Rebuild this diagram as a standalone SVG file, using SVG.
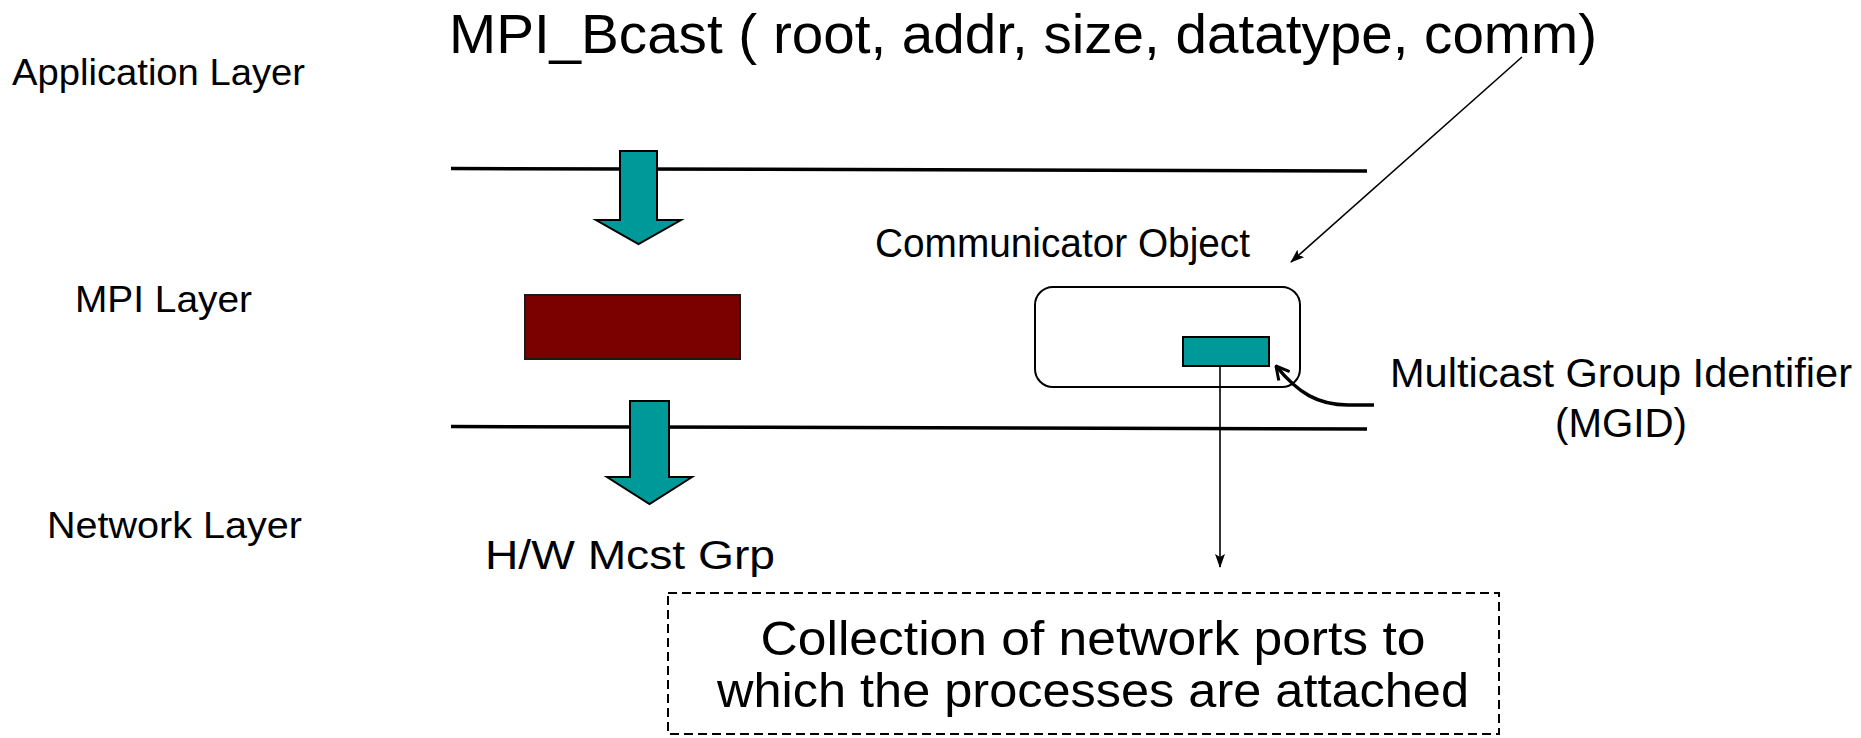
<svg xmlns="http://www.w3.org/2000/svg" width="1861" height="738" viewBox="0 0 1861 738">
  <defs>
    <style>
      .txt { font-family: "Liberation Sans", "DejaVu Sans", sans-serif; fill: #000; }
      .layer { stroke: #000; stroke-width: 3.5; fill: none; }
      .flow { fill: #009999; stroke: #000; stroke-width: 2; stroke-linejoin: miter; }
      .thin { stroke: #000; stroke-width: 1.6; fill: none; }
    </style>
    <marker id="tip" viewBox="0 0 14 10" refX="13" refY="5" markerWidth="14" markerHeight="10" markerUnits="userSpaceOnUse" orient="auto">
      <path d="M0,0 L14,5 L0,10 L3,5 z" fill="#000"/>
    </marker>
    <marker id="openTip" viewBox="0 0 16 16" refX="15" refY="8" markerWidth="16" markerHeight="16" markerUnits="userSpaceOnUse" orient="auto">
      <path d="M2,1 L15,8 L2,15" fill="none" stroke="#000" stroke-width="3"/>
    </marker>
  </defs>

  <rect width="1861" height="738" fill="#fff"/>

  <!-- layer labels -->
  <g id="label-application">
    <text class="txt" x="12" y="85" font-size="37" textLength="293" lengthAdjust="spacingAndGlyphs">Application Layer</text>
  </g>
  <g id="label-mpi">
    <text class="txt" x="75" y="312" font-size="37" textLength="177" lengthAdjust="spacingAndGlyphs">MPI Layer</text>
  </g>
  <g id="label-network">
    <text class="txt" x="47" y="538" font-size="37" textLength="255" lengthAdjust="spacingAndGlyphs">Network Layer</text>
  </g>

  <!-- call signature -->
  <g id="call">
    <text class="txt" x="449" y="53" font-size="56" textLength="1148" lengthAdjust="spacingAndGlyphs">MPI_Bcast ( root, addr, size, datatype, comm)</text>
  </g>

  <!-- layer boundaries -->
  <g id="boundaries">
    <line class="layer" x1="451" y1="168.5" x2="1367" y2="171"/>
    <line class="layer" x1="451" y1="426.5" x2="1367" y2="429"/>
  </g>

  <!-- downward flow arrows -->
  <g id="flow-app-to-mpi">
    <path class="flow" d="M620,151 H657 V220 H681 L638.5,244 L596,220 H620 Z"/>
  </g>
  <g id="flow-mpi-to-net">
    <path class="flow" d="M630,401 H669 V477 H692 L649.5,504 L607,477 H630 Z"/>
  </g>

  <!-- MPI layer block -->
  <g id="mpi-block">
    <rect x="525" y="295" width="215" height="64" fill="#7B0000" stroke="#1a1a1a" stroke-width="2"/>
  </g>

  <g id="hw-group">
    <text class="txt" x="485" y="569" font-size="40" textLength="290" lengthAdjust="spacingAndGlyphs">H/W Mcst Grp</text>
  </g>

  <!-- communicator object -->
  <g id="communicator">
    <text class="txt" x="875" y="257" font-size="40" textLength="375" lengthAdjust="spacingAndGlyphs">Communicator Object</text>
    <rect x="1035" y="287" width="265" height="100" rx="18" ry="18" fill="#fff" stroke="#000" stroke-width="2"/>
  </g>
  <g id="mgid">
    <rect x="1183" y="337" width="86" height="29" fill="#009999" stroke="#000" stroke-width="2"/>
  </g>
  <g id="mgid-label">
    <text class="txt" x="1621" y="387" font-size="40" text-anchor="middle" textLength="462" lengthAdjust="spacingAndGlyphs">Multicast Group Identifier</text>
    <text class="txt" x="1621" y="437" font-size="40" text-anchor="middle" textLength="132" lengthAdjust="spacingAndGlyphs">(MGID)</text>
  </g>

  <!-- port collection -->
  <g id="port-collection">
    <rect x="668" y="593" width="831" height="141" fill="none" stroke="#000" stroke-width="2" stroke-dasharray="9 5"/>
    <text class="txt" x="1093" y="655" font-size="48" text-anchor="middle" textLength="665" lengthAdjust="spacingAndGlyphs">Collection of network ports to</text>
    <text class="txt" x="1093" y="707" font-size="48" text-anchor="middle" textLength="752" lengthAdjust="spacingAndGlyphs">which the processes are attached</text>
  </g>

  <!-- connectors -->
  <g id="connectors">
    <line class="thin" x1="1522" y1="57" x2="1291" y2="262" marker-end="url(#tip)"/>
    <line class="thin" x1="1220" y1="366" x2="1220" y2="567" marker-end="url(#tip)"/>
    <path d="M1374,405 L1348,405 C1318,405 1298,393 1276,366" fill="none" stroke="#000" stroke-width="3.5" marker-end="url(#openTip)"/>
  </g>
</svg>
